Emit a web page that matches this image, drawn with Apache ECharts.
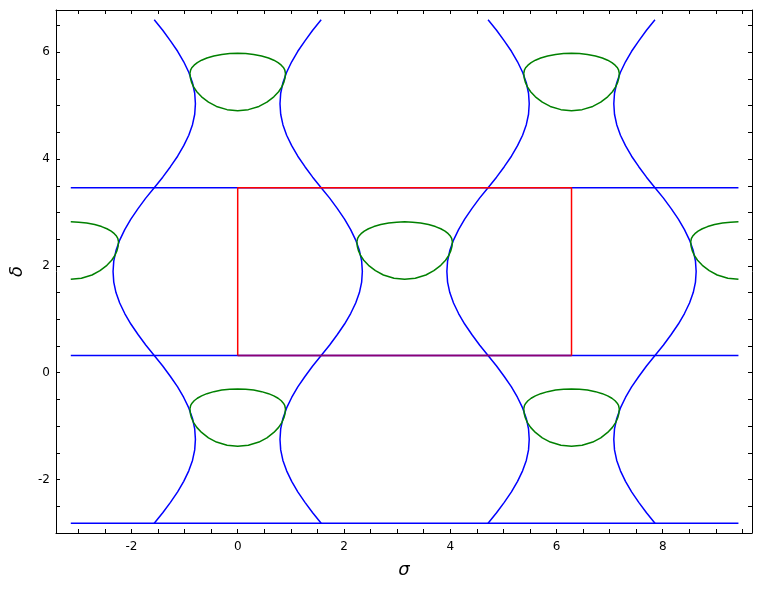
<!DOCTYPE html>
<html>
<head>
<meta charset="utf-8">
<script src="https://cdn.jsdelivr.net/npm/echarts@6/dist/echarts.min.js"></script>
<style>html,body{margin:0;padding:0;background:#fff}#c{width:762px;height:590px}</style>
</head>
<body>
<div id="c"></div>
<script>
// ---- data ----
const xTickLabels = [-2, 0, 2, 4, 6, 8];
const yTickLabels = [-2, 0, 2, 4, 6];
const xMinorTicks = [-3, -2.5, -2, -1.5, -1, -0.5, 0, 0.5, 1, 1.5, 2, 2.5, 3, 3.5, 4, 4.5, 5, 5.5, 6, 6.5, 7, 7.5, 8, 8.5, 9, 9.5];
const yMinorTicks = [-2.5, -2, -1.5, -1, -0.5, 0, 0.5, 1, 1.5, 2, 2.5, 3, 3.5, 4, 4.5, 5, 5.5, 6, 6.5];

// horizontal blue lines
const hLineSigma = [-3.1416, 9.4248];
const hLineDeltas = [-2.818, 0.323, 3.465];

// wavy blue curves (shared delta samples, top to bottom)
const blueDelta = [6.606, 6.410, 6.213, 6.017, 5.821, 5.624, 5.428, 5.232, 5.035, 4.839, 4.643, 4.446, 4.250, 4.053, 3.857, 3.661, 3.464, 3.268, 3.072, 2.875, 2.679, 2.483, 2.286, 2.090, 1.894, 1.697, 1.501, 1.305, 1.108, 0.912, 0.716, 0.519, 0.323, 0.126, -0.070, -0.266, -0.463, -0.659, -0.855, -1.052, -1.248, -1.444, -1.641, -1.837, -2.033, -2.230, -2.426, -2.622, -2.819];
const blueSigma1 = [-1.571, -1.411, -1.266, -1.131, -1.016, -0.921, -0.851, -0.809, -0.796, -0.809, -0.851, -0.921, -1.016, -1.131, -1.266, -1.411, -1.571, -1.731, -1.876, -2.011, -2.126, -2.221, -2.291, -2.333, -2.346, -2.333, -2.291, -2.221, -2.126, -2.011, -1.876, -1.731, -1.571, -1.411, -1.266, -1.131, -1.016, -0.921, -0.851, -0.809, -0.796, -0.809, -0.851, -0.921, -1.016, -1.131, -1.266, -1.411, -1.571];
const blueSigma2 = [1.571, 1.411, 1.266, 1.131, 1.016, 0.921, 0.851, 0.809, 0.796, 0.809, 0.851, 0.921, 1.016, 1.131, 1.266, 1.411, 1.571, 1.731, 1.876, 2.011, 2.126, 2.221, 2.291, 2.333, 2.346, 2.333, 2.291, 2.221, 2.126, 2.011, 1.876, 1.731, 1.571, 1.411, 1.266, 1.131, 1.016, 0.921, 0.851, 0.809, 0.796, 0.809, 0.851, 0.921, 1.016, 1.131, 1.266, 1.411, 1.571];
const blueSigma3 = [4.712, 4.872, 5.017, 5.152, 5.267, 5.362, 5.432, 5.474, 5.487, 5.474, 5.432, 5.362, 5.267, 5.152, 5.017, 4.872, 4.712, 4.552, 4.407, 4.272, 4.157, 4.062, 3.992, 3.950, 3.937, 3.950, 3.992, 4.062, 4.157, 4.272, 4.407, 4.552, 4.712, 4.872, 5.017, 5.152, 5.267, 5.362, 5.432, 5.474, 5.487, 5.474, 5.432, 5.362, 5.267, 5.152, 5.017, 4.872, 4.712];
const blueSigma4 = [7.854, 7.694, 7.549, 7.414, 7.299, 7.204, 7.134, 7.092, 7.079, 7.092, 7.134, 7.204, 7.299, 7.414, 7.549, 7.694, 7.854, 8.014, 8.159, 8.294, 8.409, 8.504, 8.574, 8.616, 8.629, 8.616, 8.574, 8.504, 8.409, 8.294, 8.159, 8.014, 7.854, 7.694, 7.549, 7.414, 7.299, 7.204, 7.134, 7.092, 7.079, 7.092, 7.134, 7.204, 7.299, 7.414, 7.549, 7.694, 7.854];

// green ovals (closed outlines; each row shares its delta list)
const ovalTopDelta = [5.605, 5.671, 5.714, 5.758, 5.805, 5.85, 5.891, 5.929, 5.958, 5.974, 5.979, 5.974, 5.958, 5.929, 5.891, 5.85, 5.805, 5.758, 5.714, 5.671, 5.605, 5.515, 5.44, 5.35, 5.26, 5.165, 5.065, 4.985, 4.925, 4.905, 4.925, 4.985, 5.065, 5.165, 5.26, 5.35, 5.44, 5.515, 5.605];
const ovalMidDelta = [2.45, 2.516, 2.559, 2.603, 2.65, 2.695, 2.736, 2.774, 2.803, 2.819, 2.824, 2.819, 2.803, 2.774, 2.736, 2.695, 2.65, 2.603, 2.559, 2.516, 2.45, 2.36, 2.285, 2.195, 2.105, 2.01, 1.91, 1.83, 1.77, 1.75, 1.77, 1.83, 1.91, 2.01, 2.105, 2.195, 2.285, 2.36, 2.45];
const ovalLowDelta = [-0.678, -0.612, -0.569, -0.525, -0.478, -0.433, -0.392, -0.354, -0.325, -0.309, -0.304, -0.309, -0.325, -0.354, -0.392, -0.433, -0.478, -0.525, -0.569, -0.612, -0.678, -0.768, -0.843, -0.933, -1.023, -1.118, -1.218, -1.298, -1.358, -1.378, -1.358, -1.298, -1.218, -1.118, -1.023, -0.933, -0.843, -0.768, -0.678];
const ovalSigmaAt0 = [-0.899, -0.885, -0.86, -0.82, -0.76, -0.68, -0.58, -0.45, -0.3, -0.15, 0, 0.15, 0.3, 0.45, 0.58, 0.68, 0.76, 0.82, 0.86, 0.885, 0.899, 0.89, 0.87, 0.83, 0.77, 0.68, 0.55, 0.4, 0.2, 0, -0.2, -0.4, -0.55, -0.68, -0.77, -0.83, -0.87, -0.89, -0.899];
const ovalSigmaAt2Pi = [5.384, 5.398, 5.423, 5.463, 5.523, 5.603, 5.703, 5.833, 5.983, 6.133, 6.283, 6.433, 6.583, 6.733, 6.863, 6.963, 7.043, 7.103, 7.143, 7.168, 7.182, 7.173, 7.153, 7.113, 7.053, 6.963, 6.833, 6.683, 6.483, 6.283, 6.083, 5.883, 5.733, 5.603, 5.513, 5.453, 5.413, 5.393, 5.384];
const ovalSigmaAtPi = [2.243, 2.257, 2.282, 2.322, 2.382, 2.462, 2.562, 2.692, 2.842, 2.992, 3.142, 3.292, 3.442, 3.592, 3.722, 3.822, 3.902, 3.962, 4.002, 4.027, 4.041, 4.032, 4.012, 3.972, 3.912, 3.822, 3.692, 3.542, 3.342, 3.142, 2.942, 2.742, 2.592, 2.462, 2.372, 2.312, 2.272, 2.252, 2.243];
const halfOvalLeftSigma = [-3.142, -2.992, -2.842, -2.692, -2.562, -2.462, -2.382, -2.322, -2.282, -2.257, -2.243, -2.252, -2.272, -2.312, -2.372, -2.462, -2.592, -2.742, -2.942, -3.142];
const halfOvalLeftDelta = [2.824, 2.819, 2.803, 2.774, 2.736, 2.695, 2.65, 2.603, 2.559, 2.516, 2.45, 2.36, 2.285, 2.195, 2.105, 2.01, 1.91, 1.83, 1.77, 1.75];
const halfOvalRightSigma = [9.425, 9.225, 9.025, 8.875, 8.745, 8.655, 8.595, 8.555, 8.535, 8.526, 8.54, 8.565, 8.605, 8.665, 8.745, 8.845, 8.975, 9.125, 9.275, 9.425];
const halfOvalRightDelta = [1.75, 1.77, 1.83, 1.91, 2.01, 2.105, 2.195, 2.285, 2.36, 2.45, 2.516, 2.559, 2.603, 2.65, 2.695, 2.736, 2.774, 2.803, 2.819, 2.824];

// red rectangle
const rectSigma = [0, 6.283, 6.283, 0, 0];
const rectDelta = [0.323, 0.323, 3.465, 3.465, 0.323];

// ---- build ----
const zip = (xs, ys) => xs.map((x, i) => [x, ys[i]]);
const BLUE = '#0000ff', GREEN = '#008000', RED = '#ff0000';
const LW = 1.5;
function line(data, color, smooth, z, opacity) {
  return {
    type: 'line', data: data, showSymbol: false, symbol: 'none', smooth: smooth ? 0.15 : false,
    lineStyle: { color: color, width: LW, opacity: opacity == null ? 1 : opacity },
    itemStyle: { color: color }, z: z || 2, silent: true, clip: true, animation: false
  };
}
const series = [];
hLineDeltas.forEach(d => series.push(line(zip(hLineSigma, hLineSigma.map(() => d)), BLUE, false, 2)));
[blueSigma1, blueSigma2, blueSigma3, blueSigma4].forEach(s => series.push(line(zip(s, blueDelta), BLUE, false, 2)));
series.push(line(zip(ovalSigmaAt0, ovalTopDelta), GREEN, false, 3));
series.push(line(zip(ovalSigmaAt2Pi, ovalTopDelta), GREEN, false, 3));
series.push(line(zip(ovalSigmaAtPi, ovalMidDelta), GREEN, false, 3));
series.push(line(zip(halfOvalLeftSigma, halfOvalLeftDelta), GREEN, false, 3));
series.push(line(zip(halfOvalRightSigma, halfOvalRightDelta), GREEN, false, 3));
series.push(line(zip(ovalSigmaAt0, ovalLowDelta), GREEN, false, 3));
series.push(line(zip(ovalSigmaAt2Pi, ovalLowDelta), GREEN, false, 3));
series.push(line(zip(rectSigma, rectDelta), RED, false, 4));
// blue line showing through the rectangle's lower edge
series.push(line(zip([rectSigma[0], rectSigma[1]], [rectDelta[0], rectDelta[1]]), BLUE, false, 5, 0.45));

const FONT = 'DejaVu Sans';
const axisCommon = {
  type: 'value',
  axisLine: { show: true, onZero: false, lineStyle: { color: '#000', width: 1 } },
  splitLine: { show: false },
  minorTick: { show: false }
};
const xMin = -3.42, xMax = 9.68, yMin = -3.0, yMax = 6.79;
const option = {
  animation: false,
  backgroundColor: '#fff',
  grid: { left: 54, right: 10, top: 10, bottom: 57, containLabel: false },
  xAxis: [
    Object.assign({}, axisCommon, {
      position: 'bottom', min: xMin, max: xMax,
      axisTick: { show: true, inside: true, length: 4, customValues: xMinorTicks, lineStyle: { color: '#000' } },
      axisLabel: { show: true, customValues: xTickLabels, color: '#000', fontSize: 12, fontFamily: FONT, margin: 8 },
      name: 'σ', nameLocation: 'middle', nameGap: 28,
      nameTextStyle: { fontFamily: FONT, fontStyle: 'italic', fontSize: 18, color: '#000' }
    }),
    Object.assign({}, axisCommon, {
      position: 'top', min: xMin, max: xMax,
      axisTick: { show: true, inside: true, length: 4, customValues: xMinorTicks, lineStyle: { color: '#000' } },
      axisLabel: { show: false }
    })
  ],
  yAxis: [
    Object.assign({}, axisCommon, {
      position: 'left', min: yMin, max: yMax,
      axisTick: { show: true, inside: true, length: 4, customValues: yMinorTicks, lineStyle: { color: '#000' } },
      axisLabel: { show: true, customValues: yTickLabels, color: '#000', fontSize: 12, fontFamily: FONT, margin: 6 },
      name: 'δ', nameLocation: 'middle', nameGap: 30, nameRotate: 90,
      nameTextStyle: { fontFamily: FONT, fontStyle: 'italic', fontSize: 18, color: '#000' }
    }),
    Object.assign({}, axisCommon, {
      position: 'right', min: yMin, max: yMax,
      axisTick: { show: true, inside: true, length: 4, customValues: yMinorTicks, lineStyle: { color: '#000' } },
      axisLabel: { show: false }
    })
  ],
  series: series
};
const chart = echarts.init(document.getElementById('c'), null, { renderer: 'canvas' });
chart.setOption(option);
</script>
</body>
</html>
